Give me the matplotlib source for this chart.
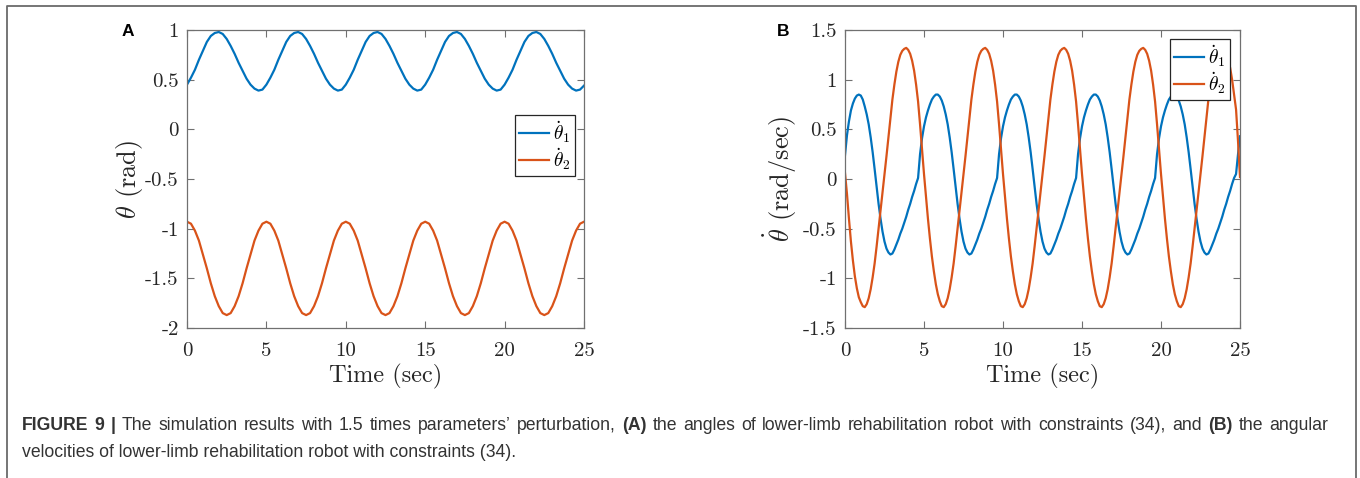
import numpy as np
import matplotlib
matplotlib.use("Agg")
import matplotlib.pyplot as plt

plt.rcParams['mathtext.fontset'] = 'cm'
plt.rcParams['axes.unicode_minus'] = False

# sample times (s): panel A every 0.25 s, panel B every 0.125 s
time_a = np.linspace(0, 25, 101)
time_b = np.linspace(0, 25, 201)

# (A) joint angles, rad
theta1 = [
    0.45, 0.52, 0.60, 0.70, 0.79, 0.88, 0.94, 0.97, 0.98, 0.96, 0.91, 0.84, 0.76, 0.67, 0.59, 0.51, 0.45, 0.41, 0.39, 0.40,
    0.45, 0.52, 0.60, 0.70, 0.79, 0.88, 0.94, 0.97, 0.98, 0.96, 0.91, 0.84, 0.76, 0.67, 0.59, 0.51, 0.45, 0.41, 0.39, 0.40,
    0.45, 0.52, 0.60, 0.70, 0.79, 0.88, 0.94, 0.97, 0.98, 0.96, 0.91, 0.84, 0.76, 0.67, 0.59, 0.51, 0.45, 0.41, 0.39, 0.40,
    0.45, 0.52, 0.60, 0.70, 0.79, 0.88, 0.94, 0.97, 0.98, 0.96, 0.91, 0.84, 0.76, 0.67, 0.59, 0.51, 0.45, 0.41, 0.39, 0.40,
    0.45, 0.52, 0.60, 0.70, 0.79, 0.88, 0.94, 0.97, 0.98, 0.96, 0.91, 0.84, 0.76, 0.67, 0.59, 0.51, 0.45, 0.41, 0.39, 0.40,
    0.44]
theta2 = [
    -0.93, -0.95, -1.02, -1.12, -1.26, -1.40, -1.55, -1.68, -1.78, -1.85, -1.87, -1.85, -1.78, -1.68, -1.55, -1.40, -1.26, -1.12, -1.02, -0.95,
    -0.93, -0.95, -1.02, -1.12, -1.26, -1.40, -1.55, -1.68, -1.78, -1.85, -1.87, -1.85, -1.78, -1.68, -1.55, -1.40, -1.26, -1.12, -1.02, -0.95,
    -0.93, -0.95, -1.02, -1.12, -1.26, -1.40, -1.55, -1.68, -1.78, -1.85, -1.87, -1.85, -1.78, -1.68, -1.55, -1.40, -1.26, -1.12, -1.02, -0.95,
    -0.93, -0.95, -1.02, -1.12, -1.26, -1.40, -1.55, -1.68, -1.78, -1.85, -1.87, -1.85, -1.78, -1.68, -1.55, -1.40, -1.26, -1.12, -1.02, -0.95,
    -0.93, -0.95, -1.02, -1.12, -1.26, -1.40, -1.55, -1.68, -1.78, -1.85, -1.87, -1.85, -1.78, -1.68, -1.55, -1.40, -1.26, -1.12, -1.02, -0.95,
    -0.93]

# (B) joint angular velocities, rad/s (two rows = 5 s)
dtheta1 = [
    0.24, 0.44, 0.58, 0.69, 0.76, 0.81, 0.84, 0.85, 0.84, 0.80, 0.73, 0.65, 0.55, 0.42, 0.27, 0.10, -0.08, -0.25, -0.40, -0.53,
    -0.63, -0.70, -0.74, -0.76, -0.75, -0.71, -0.66, -0.61, -0.55, -0.50, -0.44, -0.38, -0.31, -0.25, -0.18, -0.12, -0.05, 0.01, 0.25, 0.41,
    0.53, 0.62, 0.69, 0.75, 0.80, 0.83, 0.85, 0.85, 0.83, 0.79, 0.73, 0.65, 0.55, 0.42, 0.27, 0.10, -0.08, -0.25, -0.40, -0.53,
    -0.63, -0.70, -0.74, -0.76, -0.75, -0.71, -0.66, -0.61, -0.55, -0.50, -0.44, -0.38, -0.31, -0.25, -0.18, -0.12, -0.05, 0.01, 0.25, 0.41,
    0.53, 0.62, 0.69, 0.75, 0.80, 0.83, 0.85, 0.85, 0.83, 0.79, 0.73, 0.65, 0.55, 0.42, 0.27, 0.10, -0.08, -0.25, -0.40, -0.53,
    -0.63, -0.70, -0.74, -0.76, -0.75, -0.71, -0.66, -0.61, -0.55, -0.50, -0.44, -0.38, -0.31, -0.25, -0.18, -0.12, -0.05, 0.01, 0.25, 0.41,
    0.53, 0.62, 0.69, 0.75, 0.80, 0.83, 0.85, 0.85, 0.83, 0.79, 0.73, 0.65, 0.55, 0.42, 0.27, 0.10, -0.08, -0.25, -0.40, -0.53,
    -0.63, -0.70, -0.74, -0.76, -0.75, -0.71, -0.66, -0.61, -0.55, -0.50, -0.44, -0.38, -0.31, -0.25, -0.18, -0.12, -0.05, 0.01, 0.25, 0.41,
    0.53, 0.62, 0.69, 0.75, 0.80, 0.83, 0.85, 0.85, 0.83, 0.79, 0.73, 0.65, 0.55, 0.42, 0.27, 0.10, -0.08, -0.25, -0.40, -0.53,
    -0.63, -0.70, -0.74, -0.76, -0.75, -0.71, -0.66, -0.61, -0.55, -0.50, -0.44, -0.38, -0.31, -0.25, -0.18, -0.12, -0.05, 0.01, 0.05, 0.25,
    0.43]
dtheta2 = [
    0.06, -0.15, -0.40, -0.63, -0.82, -0.98, -1.10, -1.19, -1.24, -1.28, -1.29, -1.26, -1.20, -1.11, -0.99, -0.85, -0.68, -0.50, -0.32, -0.14,
    0.03, 0.23, 0.42, 0.62, 0.80, 0.95, 1.08, 1.18, 1.25, 1.29, 1.31, 1.32, 1.30, 1.26, 1.19, 1.09, 0.95, 0.78, 0.55, 0.30,
    0.05, -0.18, -0.40, -0.60, -0.78, -0.93, -1.06, -1.16, -1.23, -1.28, -1.29, -1.26, -1.20, -1.11, -0.99, -0.85, -0.68, -0.50, -0.32, -0.14,
    0.03, 0.23, 0.42, 0.62, 0.80, 0.95, 1.08, 1.18, 1.25, 1.29, 1.31, 1.32, 1.30, 1.26, 1.19, 1.09, 0.95, 0.78, 0.55, 0.30,
    0.05, -0.18, -0.40, -0.60, -0.78, -0.93, -1.06, -1.16, -1.23, -1.28, -1.29, -1.26, -1.20, -1.11, -0.99, -0.85, -0.68, -0.50, -0.32, -0.14,
    0.03, 0.23, 0.42, 0.62, 0.80, 0.95, 1.08, 1.18, 1.25, 1.29, 1.31, 1.32, 1.30, 1.26, 1.19, 1.09, 0.95, 0.78, 0.55, 0.30,
    0.05, -0.18, -0.40, -0.60, -0.78, -0.93, -1.06, -1.16, -1.23, -1.28, -1.29, -1.26, -1.20, -1.11, -0.99, -0.85, -0.68, -0.50, -0.32, -0.14,
    0.03, 0.23, 0.42, 0.62, 0.80, 0.95, 1.08, 1.18, 1.25, 1.29, 1.31, 1.32, 1.30, 1.26, 1.19, 1.09, 0.95, 0.78, 0.55, 0.30,
    0.05, -0.18, -0.40, -0.60, -0.78, -0.93, -1.06, -1.16, -1.23, -1.28, -1.29, -1.26, -1.20, -1.11, -0.99, -0.85, -0.68, -0.50, -0.32, -0.14,
    0.03, 0.23, 0.42, 0.62, 0.80, 0.95, 1.08, 1.18, 1.25, 1.29, 1.31, 1.32, 1.30, 1.26, 1.19, 1.12, 1.00, 0.85, 0.70, 0.38,
    0.02]

xticks = [0, 5, 10, 15, 20, 25]
yticks_a = [-2, -1.5, -1, -0.5, 0, 0.5, 1]
yticks_b = [-1.5, -1, -0.5, 0, 0.5, 1, 1.5]
legend_labels = [r'$\dot{\theta}_1$', r'$\dot{\theta}_2$']

caption_line1 = [('FIGURE 9 |', 'bold'),
                 ('The simulation results with 1.5 times parameters\u2019 perturbation,', 'normal'),
                 ('(A)', 'bold'),
                 ('the angles of lower-limb rehabilitation robot with constraints (34), and', 'normal'),
                 ('(B)', 'bold'),
                 ('the angular', 'normal')]
caption_line2 = 'velocities of lower-limb rehabilitation robot with constraints (34).'

blue = '#0072BD'
orange = '#D95319'
axis_gray = '#707070'
serif = 'cmr10'

fig = plt.figure(figsize=(13.6, 4.78), dpi=100)

# whole-figure overlay in pixel units: outer frame and caption
frame = fig.add_axes([0, 0, 1, 1])
frame.set_xlim(0, 1360)
frame.set_ylim(478, 0)
frame.axis('off')
frame.plot([7, 7, 1356, 1356], [478, 6, 6, 478], color='#6a6a6a', lw=1.3)


def style_axes(ax, yticks):
    ax.set_xlim(0, 25)
    ax.set_xticks(xticks)
    ax.set_xticklabels([str(v) for v in xticks], fontfamily=serif, fontsize=15)
    ax.set_yticks(yticks)
    ax.set_yticklabels(['%g' % v for v in yticks], fontfamily=serif, fontsize=15)
    ax.tick_params(direction='in', top=True, right=True, length=5, width=0.8,
                   color=axis_gray, labelcolor='#262626', pad=6)
    ax.tick_params(axis='x', pad=10)
    for s in ax.spines.values():
        s.set_color(axis_gray)
        s.set_linewidth(0.9)
    ax.set_xlabel('Time (sec)', fontfamily=serif, fontsize=17.5, color='#262626', labelpad=3)


def add_legend(ax, anchor):
    leg = ax.legend(loc='upper right', bbox_to_anchor=anchor, borderaxespad=0,
                    fontsize=14, handlelength=1.55, handletextpad=0.2, borderpad=0.2,
                    labelspacing=0.05, fancybox=False, framealpha=1)
    leg.get_frame().set_edgecolor('#262626')
    leg.get_frame().set_linewidth(0.9)


axA = fig.add_axes([187 / 1360, 1 - 328 / 478, 397 / 1360, 298 / 478])
axA.plot(time_a, theta1, color=blue, lw=1.6, label=legend_labels[0])
axA.plot(time_a, theta2, color=orange, lw=1.6, label=legend_labels[1])
axA.set_ylim(-2, 1)
style_axes(axA, yticks_a)
axA.set_ylabel(r'$\theta$ (rad)', fontfamily=serif, fontsize=19, color='#262626', labelpad=0)
add_legend(axA, (0.977, 0.715))

axB = fig.add_axes([845 / 1360, 1 - 328 / 478, 395 / 1360, 298 / 478])
axB.plot(time_b, dtheta1, color=blue, lw=1.6, label=legend_labels[0])
axB.plot(time_b, dtheta2, color=orange, lw=1.6, label=legend_labels[1])
axB.set_ylim(-1.5, 1.5)
style_axes(axB, yticks_b)
axB.set_ylabel(r'$\dot{\theta}$ (rad/sec)', fontfamily=serif, fontsize=19, color='#262626', labelpad=3)
add_legend(axB, (0.975, 0.970))

# panel letters
fig.text(128 / 1360, 1 - 32 / 478, 'A', fontsize=12.5, fontweight='bold', family='Liberation Sans',
         ha='center', va='center')
fig.text(783 / 1360, 1 - 32 / 478, 'B', fontsize=12.5, fontweight='bold', family='Liberation Sans',
         ha='center', va='center')

# caption: first line is justified between x=22 and x=1328
cap_font = dict(family='Liberation Sans', fontsize=12.7, color='#333333')
renderer = fig.canvas.get_renderer()
words = []
for chunk, weight in caption_line1:
    for w in chunk.split(' '):
        t = frame.text(0, 430, w, fontweight=weight, va='baseline', ha='left', **cap_font)
        words.append(t)
widths = [t.get_window_extent(renderer).width for t in words]
gap = (1328 - 22 - sum(widths)) / (len(words) - 1)
x = 22
for t, wd in zip(words, widths):
    t.set_x(x)
    x += wd + gap
frame.text(22, 457, caption_line2, va='baseline', ha='left', **cap_font)

fig.savefig('out.png', dpi=100)
